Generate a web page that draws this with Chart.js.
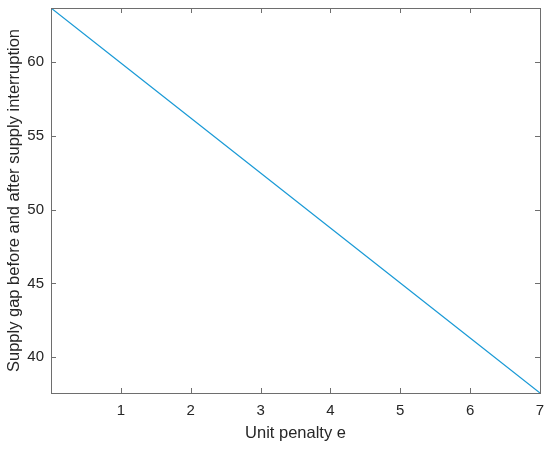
<!DOCTYPE html>
<html>
<head>
<meta charset="utf-8">
<script src="https://cdn.jsdelivr.net/npm/chart.js@4.4.0/dist/chart.umd.min.js"></script>
<style>
  html, body { margin: 0; padding: 0; background: #fff; }
  #wrap { width: 550px; height: 449px; }
</style>
</head>
<body>
<div id="wrap"><canvas id="chart" width="550" height="449"></canvas></div>
<script>
const penalty = [0, 1, 2, 3, 4, 5, 6, 7];
const supplyGap = [63.66, 59.93, 56.21, 52.48, 48.76, 45.03, 41.31, 37.58];
const xTicks = [0, 1, 2, 3, 4, 5, 6, 7];
const yTicks = [40, 45, 50, 55, 60];

const LINE_COLOR = '#1a9ad6';
const AXIS_COLOR = '#6e6e6e';
const TEXT_COLOR = '#262626';
const FONT = 'Liberation Sans, Arial, Helvetica, sans-serif';

// box around the plot + inward ticks like matlab
const boxPlugin = {
    id: 'box',
    afterDatasetsDraw(chart) {
        const ctx = chart.ctx;
        const a = chart.chartArea;
        const xs = chart.scales.x;
        const ys = chart.scales.y;
        ctx.save();
        ctx.strokeStyle = AXIS_COLOR;
        ctx.lineWidth = 1;
        ctx.strokeRect(Math.round(a.left) + 0.5, Math.round(a.top) + 0.5,
            Math.round(a.right - a.left), Math.round(a.bottom - a.top));
        ctx.beginPath();
        xs.ticks.forEach(t => {
            const px = Math.round(xs.getPixelForValue(t.value)) + 0.5;
            ctx.moveTo(px, a.bottom); ctx.lineTo(px, a.bottom - 5);
            ctx.moveTo(px, a.top); ctx.lineTo(px, a.top + 5);
        });
        ys.ticks.forEach(t => {
            const py = Math.round(ys.getPixelForValue(t.value)) + 0.5;
            ctx.moveTo(a.left, py); ctx.lineTo(a.left + 5, py);
            ctx.moveTo(a.right, py); ctx.lineTo(a.right - 5, py);
        });
        ctx.stroke();
        ctx.restore();
    }
};

new Chart(document.getElementById('chart'), {
    type: 'line',
    data: {
        datasets: [{
            data: penalty.map((x, i) => ({ x: x, y: supplyGap[i] })),
            borderColor: LINE_COLOR,
            borderWidth: 1.2,
            pointRadius: 0,
            tension: 0,
            fill: false
        }]
    },
    options: {
        responsive: false,
        animation: false,
        layout: { padding: { left: 0, top: 0, right: 10, bottom: 0 } },
        plugins: { legend: { display: false }, tooltip: { enabled: false } },
        scales: {
            x: {
                type: 'linear',
                min: 0,
                max: 7,
                grid: { display: false, drawTicks: false },
                border: { display: false },
                afterBuildTicks: s => { s.ticks = xTicks.map(v => ({ value: v })); },
                afterFit: s => { s.height = 56; s.paddingLeft = 0; s.paddingRight = 0; },
                ticks: {
                    padding: 9,
                    color: TEXT_COLOR,
                    font: { family: FONT, size: 15 },
                    callback: v => (v === 0 ? '' : v)
                },
                title: {
                    display: true,
                    text: 'Unit penalty e',
                    color: TEXT_COLOR,
                    font: { family: FONT, size: 16.5 },
                    padding: { top: 0, bottom: 6 }
                }
            },
            y: {
                type: 'linear',
                min: 37.58,
                max: 63.66,
                grid: { display: false, drawTicks: false },
                border: { display: false },
                afterBuildTicks: s => { s.ticks = yTicks.map(v => ({ value: v })); },
                afterFit: s => { s.width = 51; s.paddingTop = 8; s.paddingBottom = 0; },
                ticks: {
                    padding: 7,
                    color: TEXT_COLOR,
                    font: { family: FONT, size: 15 }
                },
                title: {
                    display: true,
                    text: 'Supply gap before and after supply interruption',
                    color: TEXT_COLOR,
                    font: { family: FONT, size: 16.5 },
                    padding: { top: 4.5, bottom: 0 }
                }
            }
        }
    },
    plugins: [boxPlugin]
});
</script>
</body>
</html>
